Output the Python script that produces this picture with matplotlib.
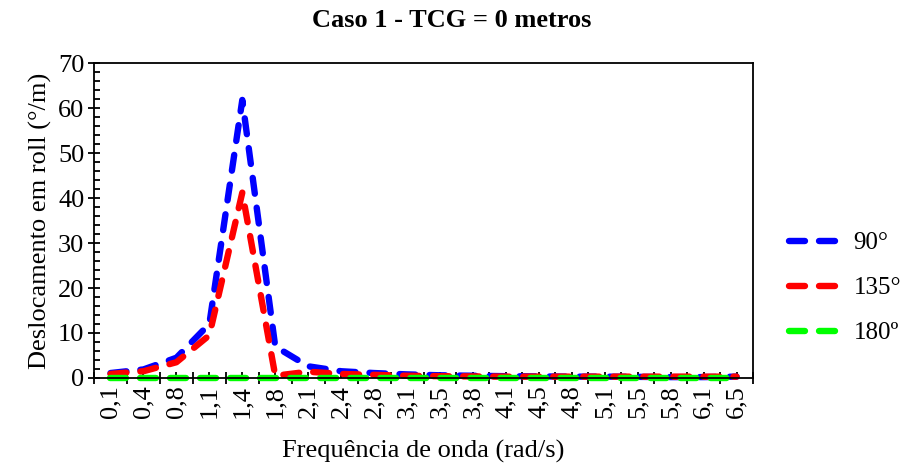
import numpy as np
import matplotlib
matplotlib.use("Agg")
import matplotlib.pyplot as plt
from matplotlib.ticker import MultipleLocator, FixedLocator

# frequencias (rotulos do eixo x)
freq = ["0,1", "0,4", "0,8", "1,1", "1,4", "1,8", "2,1", "2,4", "2,8", "3,1",
        "3,5", "3,8", "4,1", "4,5", "4,8", "5,1", "5,5", "5,8", "6,1", "6,5"]

# deslocamento em roll (graus/m)
roll_90 = [1.1, 1.9, 4.5, 12.0, 61.8, 7.0, 2.6, 1.5, 1.1, 0.8,
           0.6, 0.5, 0.4, 0.35, 0.3, 0.3, 0.25, 0.2, 0.2, 0.3]
roll_135 = [0.9, 1.5, 3.5, 9.5, 41.2, 0.5, 1.4, 0.9, 0.7, 0.5,
            0.4, 0.35, 0.3, 0.3, 0.3, 0.3, 0.3, 0.3, 0.3, 0.3]
roll_180 = [0.1] * 20

plt.rcParams['font.family'] = ['Liberation Serif', 'DejaVu Serif']
plt.rcParams['font.size'] = 19

fig = plt.figure(figsize=(9.04, 4.67), dpi=100)
ax = fig.add_axes([0.104, 0.1906, 0.729, 0.6744])

x = np.arange(len(freq))
series = [(roll_90, "#0000FF", "90°"),
          (roll_135, "#FF0000", "135°"),
          (roll_180, "#00FF00", "180º")]
for vals, col, lab in series:
    ax.plot(x, vals, color=col, lw=4.6, dashes=(2.5, 2.2),
            dash_capstyle='round', label=lab, clip_on=False)

ax.set_xlim(-0.5, len(freq) - 0.5)
ax.set_ylim(0, 70)

# eixo x: marcas entre categorias, marcas menores no centro
ax.xaxis.set_major_locator(FixedLocator(np.arange(-0.5, len(freq), 1.0)))
ax.xaxis.set_minor_locator(FixedLocator(x))
ax.set_xticklabels([])
ax.set_xticks(x, freq, minor=True, rotation=90)
ax.tick_params(axis='x', which='major', direction='inout', length=8, width=1.3)
ax.tick_params(axis='x', which='minor', direction='in', length=4, width=1.3, pad=5)

ax.yaxis.set_major_locator(MultipleLocator(10))
ax.yaxis.set_minor_locator(MultipleLocator(2))
ax.tick_params(axis='y', which='major', direction='inout', length=8, width=1.3, pad=3)
ax.tick_params(axis='y', which='minor', direction='in', length=4, width=1.3)

for s in ax.spines.values():
    s.set_linewidth(1.3)

ax.set_xlabel("Frequência de onda (rad/s)", labelpad=16)
ax.set_ylabel("Deslocamento em roll (°/m)", labelpad=4)
fig.suptitle("Caso 1 - TCG = 0 metros", fontweight='bold', fontsize=19, y=0.98)

ax.legend(loc='center left', bbox_to_anchor=(1.02, 0.285), frameon=False,
          fontsize=18, handlelength=2.0, labelspacing=0.9, handletextpad=0.6)

fig.savefig("out.png", dpi=100)
